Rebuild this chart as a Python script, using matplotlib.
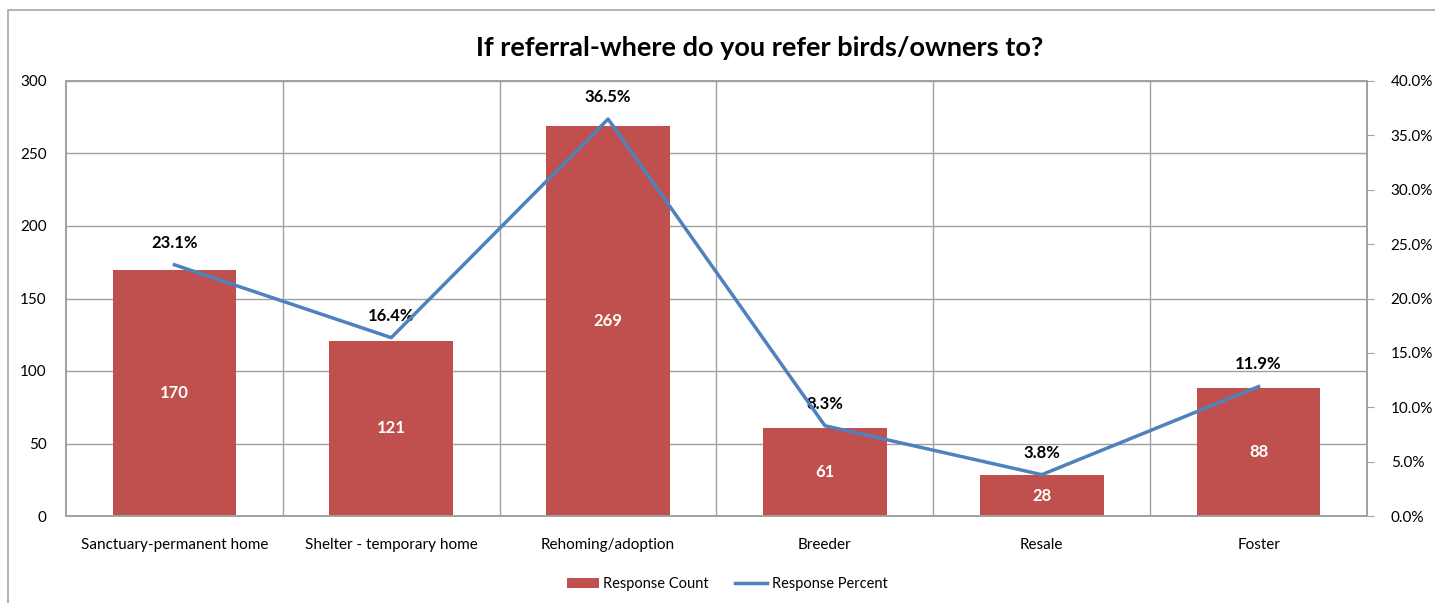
import matplotlib.pyplot as plt
import numpy as np
from matplotlib.patches import Rectangle
from matplotlib.ticker import MultipleLocator, FuncFormatter

categories = ['Sanctuary-permanent home', 'Shelter - temporary home', 'Rehoming/adoption',
              'Breeder', 'Resale', 'Foster']
counts = [170, 121, 269, 61, 28, 88]
percents = [23.1, 16.4, 36.5, 8.3, 3.8, 11.9]

bar_color = '#C0504D'
line_color = '#4F81BD'
grid_color = '#A0A0A0'

plt.rcParams['font.family'] = ['Lato', 'DejaVu Sans']

fig = plt.figure(figsize=(14.35, 6.03), dpi=100)
# outer chart frame, open on right and bottom
fig.patches.append(Rectangle((8 / 1435, -0.1), 1.1, 1.1 - 10 / 603,
                             transform=fig.transFigure, fill=False,
                             edgecolor='#A6A6A6', linewidth=1.2))

ax = fig.add_axes([66 / 1435, 1 - 516 / 603, (1367 - 66) / 1435, (516 - 81) / 603])
x = np.arange(len(categories))

bars = ax.bar(x, counts, width=0.57, color=bar_color, label='Response Count', zorder=2)
for xi, c in zip(x, counts):
    ax.text(xi, c / 2, str(c), ha='center', va='center', color='white',
            fontsize=12, fontweight='bold', zorder=3)

ax.set_xlim(-0.5, len(categories) - 0.5)
ax.set_ylim(0, 300)
ax.yaxis.set_major_locator(MultipleLocator(50))
ax.set_xticks(x)
ax.set_xticklabels(categories, fontsize=11)
ax.tick_params(axis='x', length=0, pad=16)
ax.tick_params(axis='y', length=0, pad=14, labelsize=11)
ax.grid(axis='y', color=grid_color, linewidth=1, zorder=0)
# vertical lines between categories
for b in np.arange(0.5, len(categories) - 1, 1):
    ax.axvline(b, color=grid_color, linewidth=1, zorder=0)
for s in ax.spines.values():
    s.set_color(grid_color)
    s.set_linewidth(1.2)

ax2 = ax.twinx()
line, = ax2.plot(x, percents, color=line_color, linewidth=2.5, label='Response Percent', zorder=4)
for xi, p in zip(x, percents):
    ax2.text(xi, p + 1.3, f'{p:.1f}%', ha='center', va='bottom', fontsize=12,
             fontweight='bold', color='black')
ax2.set_ylim(0, 40)
ax2.yaxis.set_major_locator(MultipleLocator(5))
ax2.yaxis.set_major_formatter(FuncFormatter(lambda v, _: f'{v:.1f}%'))
ax2.tick_params(axis='y', direction='out', length=5, color=grid_color, labelsize=11, pad=12)
for s in ax2.spines.values():
    s.set_color(grid_color)
    s.set_linewidth(1.2)

fig.text(760 / 1435, 1 - 48 / 603, 'If referral-where do you refer birds/owners to?', ha='center',
         va='center', fontsize=19.5, fontweight='bold')

fig.legend(handles=[bars, line], loc='center', bbox_to_anchor=(727 / 1435, 1 - 584 / 603),
           ncol=2, frameon=False, fontsize=10.5, handlelength=2.2, handletextpad=0.3,
           columnspacing=1.8)

fig.savefig('out.png', dpi=100)
